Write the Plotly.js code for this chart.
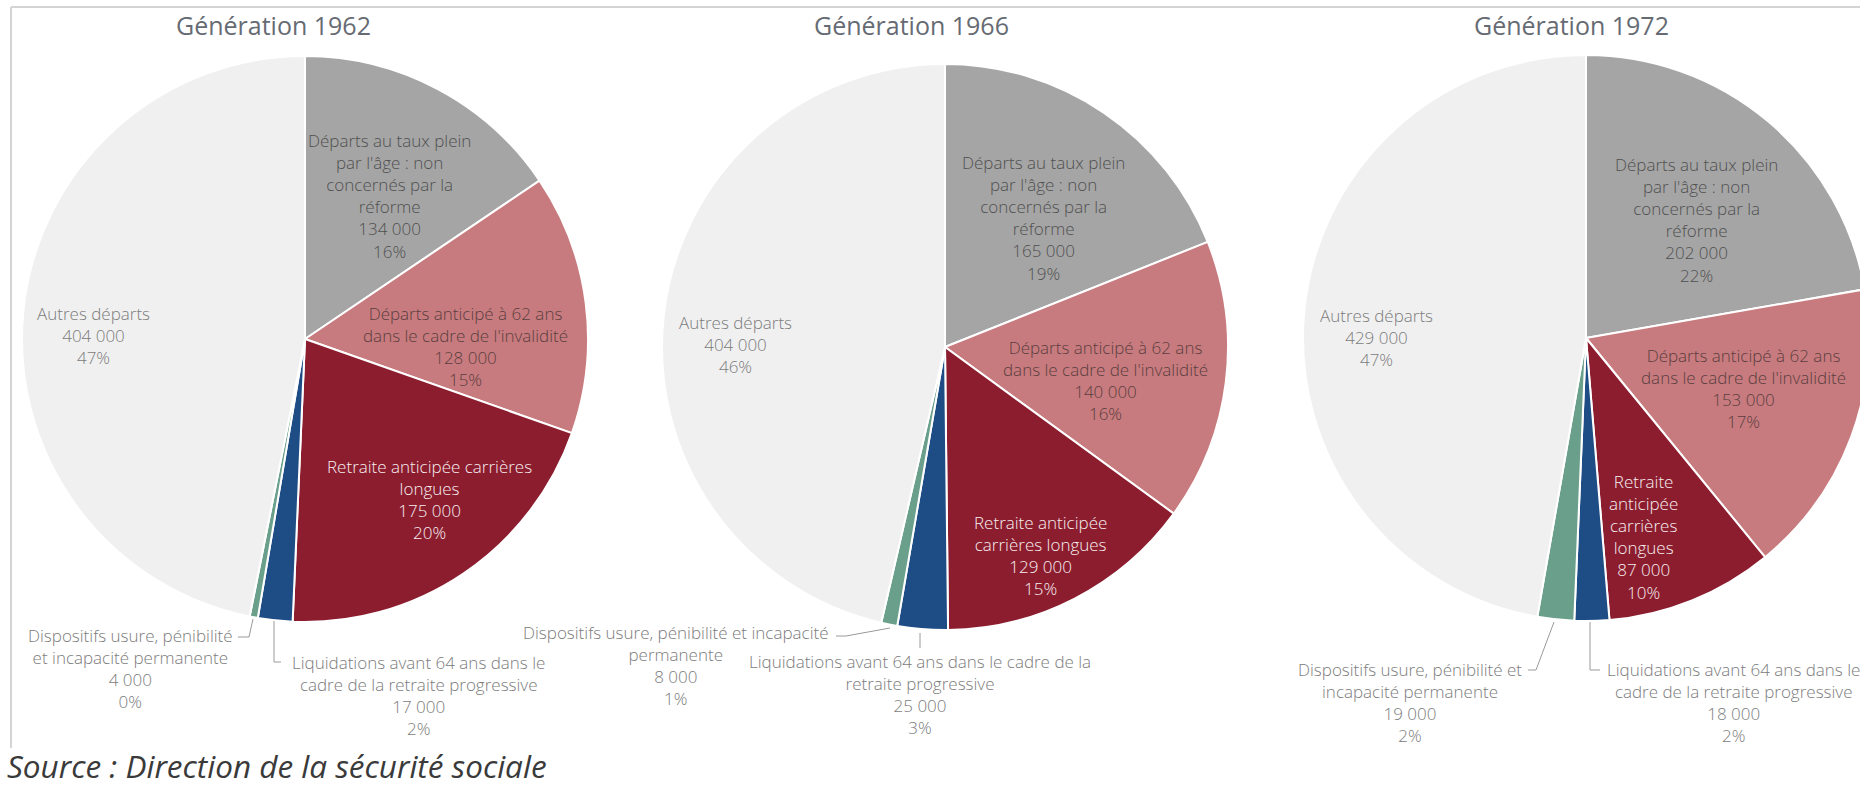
<!DOCTYPE html>
<html>
<head>
<meta charset="utf-8">
<script src="https://cdn.plot.ly/plotly-3.0.1.min.js"></script>
<style>
  html, body { margin: 0; padding: 0; overflow: hidden; background: #ffffff; }
  #chart { width: 1880px; height: 786px; }
</style>
</head>
<body>
<div id="chart"></div>
<script>
// ---------------- DATA ----------------
const categories = [
  "Départs au taux plein par l'âge : non concernés par la réforme",
  "Départs anticipé à 62 ans dans le cadre de l'invalidité",
  "Retraite anticipée carrières longues",
  "Liquidations avant 64 ans dans le cadre de la retraite progressive",
  "Dispositifs usure, pénibilité et incapacité permanente",
  "Autres départs"
];
const generations = ["Génération 1962", "Génération 1966", "Génération 1972"];
const values1962 = [134000, 128000, 175000, 17000, 4000, 404000];
const values1966 = [165000, 140000, 129000, 25000, 8000, 404000];
const values1972 = [202000, 153000, 87000, 18000, 19000, 429000];

// Wrapped label texts, as printed on each pie
const labels1962 = [
  "Départs au taux plein<br>par l'âge : non<br>concernés par la<br>réforme",
  "Départs anticipé à 62 ans<br>dans le cadre de l'invalidité",
  "Retraite anticipée carrières<br>longues",
  "Liquidations avant 64 ans dans le<br>cadre de la retraite progressive",
  "Dispositifs usure, pénibilité<br>et incapacité permanente",
  "Autres départs"
];
const labels1966 = [
  "Départs au taux plein<br>par l'âge : non<br>concernés par la<br>réforme",
  "Départs anticipé à 62 ans<br>dans le cadre de l'invalidité",
  "Retraite anticipée<br>carrières longues",
  "Liquidations avant 64 ans dans le cadre de la<br>retraite progressive",
  "Dispositifs usure, pénibilité et incapacité<br>permanente",
  "Autres départs"
];
const labels1972 = [
  "Départs au taux plein<br>par l'âge : non<br>concernés par la<br>réforme",
  "Départs anticipé à 62 ans<br>dans le cadre de l'invalidité",
  "Retraite<br>anticipée<br>carrières<br>longues",
  "Liquidations avant 64 ans dans le<br>cadre de la retraite progressive",
  "Dispositifs usure, pénibilité et<br>incapacité permanente",
  "Autres départs"
];
const sourceText = "Source : Direction de la sécurité sociale";

// ---------------- STYLE / LAYOUT ----------------
const W = 1880, H = 786;
const sliceColors = ["#a5a5a5", "#c87b7e", "#8b1d2f", "#1e4d86", "#6a9f8b", "#f0f0f0"];
const textColors  = ["#505050", "#5a3e40", "#f8eef0", "#7c7c7c", "#7c7c7c", "#7c7c7c"];
const FONT = "'Open Sans', 'Noto Sans', sans-serif";

// pie geometry in pixels: [cx, cy, r]
const pieGeom = [[305, 339, 283], [945, 347, 283], [1586, 338, 283]];
const titlePos = [[273, 25], [911, 25], [1571, 25]];
// label anchor (block centre) in pixels, per pie, per category
const labelPos = [
  [[389, 196], [465, 346], [429, 499], [418, 695], [130, 668], [93, 335]],
  [[1043, 218], [1105, 380], [1040, 555], [920, 694], [676, 665], [735, 344]],
  [[1696, 220], [1743, 388], [1643, 537], [1733, 702], [1410, 702], [1376, 337]]
];
// leader lines (pixels)
const leaderPaths = [
  [[238, 637], [249, 637], [253, 619]],
  [[274, 621], [274, 662], [281, 662]],
  [[836, 636], [846, 636], [890, 628]],
  [[920, 633], [920, 648]],
  [[1528, 670], [1536, 670], [1554, 622]],
  [[1590, 622], [1590, 670], [1600, 670]]
];

function fx(x) { return x / W; }
function fy(y) { return 1 - y / H; }
function fmt(v) { return String(v).replace(/\B(?=(\d{3})+(?!\d))/g, " "); }

const allValues = [values1962, values1966, values1972];
const allLabels = [labels1962, labels1966, labels1972];

const traces = [];
const annotations = [];
const shapes = [];

allValues.forEach(function (vals, g) {
  const [cx, cy, r] = pieGeom[g];
  traces.push({
    type: "pie",
    labels: categories,
    values: vals,
    sort: false,
    direction: "clockwise",
    rotation: 0,
    textinfo: "none",
    hoverinfo: "skip",
    showlegend: false,
    marker: { colors: sliceColors, line: { color: "#ffffff", width: 2 } },
    domain: { x: [fx(cx - r), fx(cx + r)], y: [fy(cy + r), fy(cy - r)] }
  });
  const total = vals.reduce(function (a, b) { return a + b; }, 0);
  vals.forEach(function (v, i) {
    const pct = Math.round(v / total * 100);
    annotations.push({
      xref: "paper", yref: "paper",
      x: fx(labelPos[g][i][0]), y: fy(labelPos[g][i][1]),
      xanchor: "center", yanchor: "middle", align: "center",
      showarrow: false,
      text: allLabels[g][i] + "<br>" + fmt(v) + "<br>" + pct + "%",
      font: { family: FONT, size: 17, weight: 300, color: textColors[i] }
    });
  });
  annotations.push({
    xref: "paper", yref: "paper",
    x: fx(titlePos[g][0]), y: fy(titlePos[g][1]),
    xanchor: "center", yanchor: "middle", showarrow: false,
    text: generations[g],
    font: { family: FONT, size: 25, weight: 400, color: "#666b73" }
  });
});

annotations.push({
  xref: "paper", yref: "paper",
  x: fx(5), y: fy(765), xanchor: "left", yanchor: "middle", showarrow: false,
  text: "<i>" + sourceText + "</i>",
  font: { family: FONT, size: 31.5, weight: 400, color: "#3a3a3a" }
});

leaderPaths.forEach(function (pts) {
  const d = pts.map(function (p, k) { return (k ? "L" : "M") + fx(p[0]) + "," + fy(p[1]); }).join(" ");
  shapes.push({ type: "path", xref: "paper", yref: "paper", path: d,
    line: { color: "#9a9a9a", width: 1 } });
});
// chart frame (top and left edges)
shapes.push({ type: "line", xref: "paper", yref: "paper", x0: fx(11), y0: fy(7), x1: fx(1880), y1: fy(7),
  line: { color: "#d4d4d4", width: 2 } });
shapes.push({ type: "line", xref: "paper", yref: "paper", x0: fx(11), y0: fy(7), x1: fx(11), y1: fy(748),
  line: { color: "#d4d4d4", width: 2 } });

const layout = {
  width: W, height: H,
  margin: { l: 0, r: 0, t: 0, b: 0 },
  paper_bgcolor: "#ffffff",
  plot_bgcolor: "#ffffff",
  annotations: annotations,
  shapes: shapes
};

Plotly.newPlot("chart", traces, layout, { displayModeBar: false, staticPlot: true });
</script>
</body>
</html>
